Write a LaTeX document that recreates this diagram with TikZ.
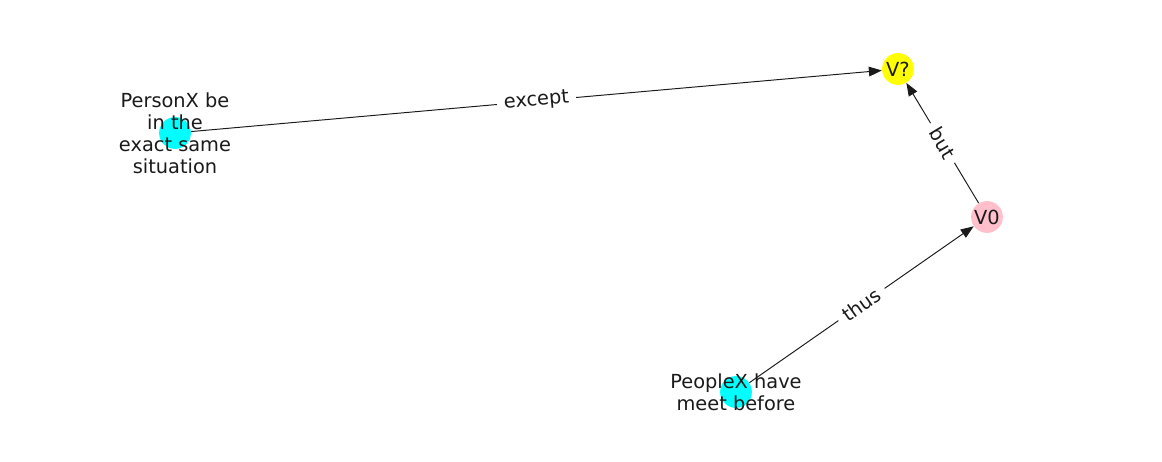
\documentclass[tikz,border=0pt]{standalone}
\usepackage{fontspec}
\setmainfont{DejaVu Sans}
\usetikzlibrary{arrows.meta}
\definecolor{ncyan}{RGB}{0,255,255}
\definecolor{nyellow}{RGB}{255,255,0}
\definecolor{npink}{RGB}{255,192,203}
\definecolor{ntext}{RGB}{26,26,26}
\begin{document}
\begin{tikzpicture}[x=0.0254cm,y=-0.0254cm,
  dot/.style={circle,inner sep=0pt,minimum size=23pt,draw=none},
  txt/.style={align=center,font=\fontsize{14}{16}\selectfont,text=ntext,inner sep=0pt},
  edge/.style={draw=ntext,line width=0.7pt,-{Triangle[length=9.4pt,width=7pt]}},
  elabel/.style={sloped,midway,fill=white,inner sep=5pt,font=\fontsize{14}{16}\selectfont,text=ntext}]
\useasboundingbox (0,0) rectangle (1162,462);
\node[dot,fill=ncyan] (px) at (175,133) {};
\node[dot,fill=nyellow] (vq) at (898,69) {};
\node[dot,fill=npink] (v0) at (987,217) {};
\node[dot,fill=ncyan] (pe) at (736,392) {};
\draw[edge] (px) -- node[elabel] {except} (vq);
\draw[edge] (v0) -- node[elabel] {but} (vq);
\draw[edge] (pe) -- node[elabel] {thus} (v0);
\node[txt] (pxt) at (px) {PersonX be\\in the\\exact same\\situation};
\node[txt] (vqt) at (vq) {V?};
\node[txt] (v0t) at (v0) {V0};
\node[txt] (pet) at (pe) {PeopleX have\\meet before};
\end{tikzpicture}
\end{document}
